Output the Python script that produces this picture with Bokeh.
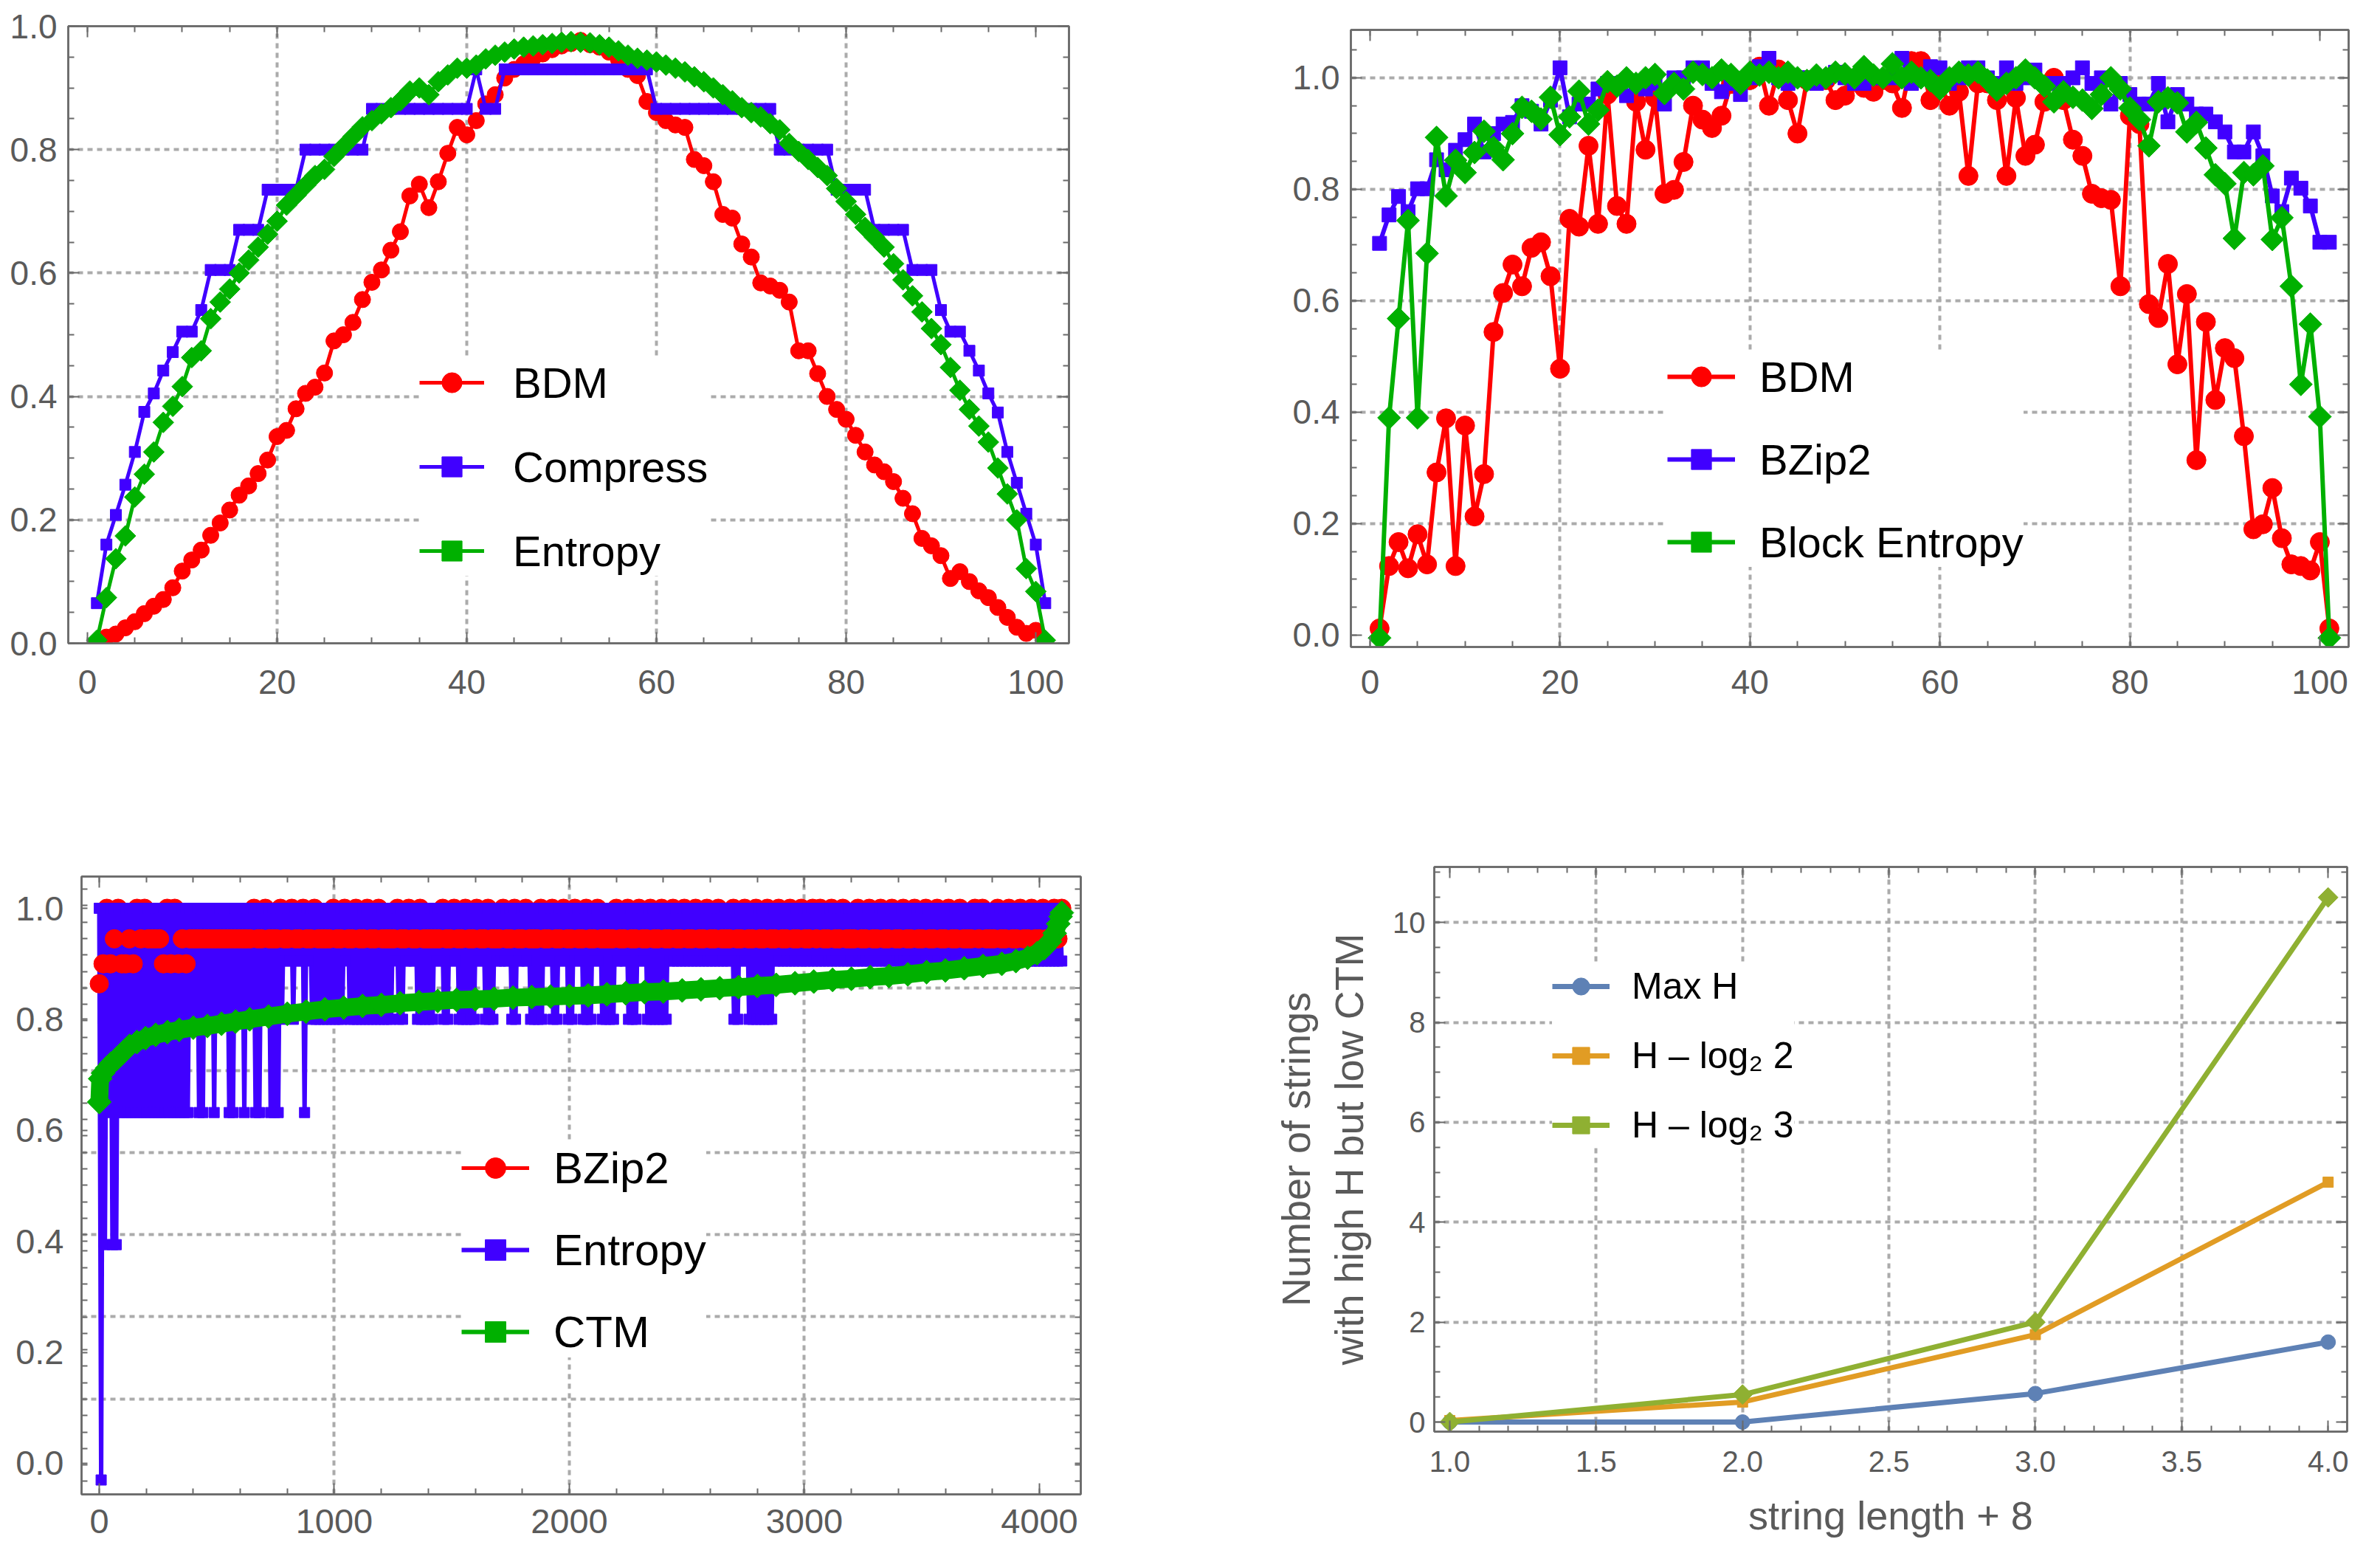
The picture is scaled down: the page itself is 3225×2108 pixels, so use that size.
import numpy as np
from bokeh.plotting import figure
from bokeh.layouts import row, column
from bokeh.models import (Range1d, FixedTicker, NumeralTickFormatter, LinearAxis, Legend,
                          LegendItem, ColumnDataSource, CDSView, BooleanFilter,
                          CustomJSTickFormatter)
from bokeh.embed import file_html
from bokeh.resources import INLINE

# ------------------------------------------------------------------ data
# top-left panel (x = 1..101)
TL_X = list(range(1, 102))
TL_BDM = [0.0, 0.01, 0.015, 0.025, 0.035, 0.048, 0.06, 0.071, 0.09, 0.117,
          0.135, 0.151, 0.175, 0.195, 0.216, 0.24, 0.255, 0.275, 0.297, 0.335,
          0.345, 0.38, 0.405, 0.415, 0.438, 0.49, 0.5, 0.52, 0.557, 0.585,
          0.605, 0.637, 0.667, 0.725, 0.744, 0.706, 0.748, 0.794, 0.836, 0.824,
          0.847, 0.874, 0.889, 0.916, 0.93, 0.939, 0.948, 0.955, 0.962, 0.968,
          0.972, 0.977, 0.97, 0.966, 0.958, 0.946, 0.93, 0.92, 0.878, 0.86,
          0.847, 0.84, 0.836, 0.784, 0.774, 0.748, 0.695, 0.689, 0.647, 0.626,
          0.584, 0.579, 0.572, 0.553, 0.474, 0.474, 0.437, 0.40, 0.379, 0.363,
          0.337, 0.31, 0.289, 0.278, 0.262, 0.235, 0.21, 0.17, 0.158, 0.142,
          0.105, 0.116, 0.1, 0.085, 0.074, 0.058, 0.042, 0.026, 0.016, 0.021,
          0.002]
TL_COMPRESS = [0.065, 0.16, 0.208, 0.257, 0.31, 0.375, 0.405, 0.442, 0.472, 0.505,
               0.505, 0.54, 0.605, 0.605, 0.605, 0.67, 0.67, 0.67, 0.735, 0.735,
               0.735, 0.735, 0.80, 0.80, 0.80, 0.80, 0.80, 0.80, 0.80, 0.866,
               0.866, 0.866, 0.866, 0.866, 0.866, 0.866, 0.866, 0.866, 0.866, 0.866,
               0.93, 0.866, 0.866, 0.93, 0.93, 0.93, 0.93, 0.93, 0.93, 0.93,
               0.93, 0.93, 0.93, 0.93, 0.93, 0.93, 0.93, 0.93, 0.93, 0.866,
               0.866, 0.866, 0.866, 0.866, 0.866, 0.866, 0.866, 0.866, 0.866, 0.866,
               0.866, 0.866, 0.80, 0.80, 0.80, 0.80, 0.80, 0.80, 0.735, 0.735,
               0.735, 0.735, 0.67, 0.67, 0.67, 0.67, 0.605, 0.605, 0.605, 0.54,
               0.505, 0.505, 0.474, 0.442, 0.405, 0.374, 0.31, 0.26, 0.21, 0.16,
               0.065]
TL_ENTROPY = [0.005, 0.074, 0.137, 0.174, 0.237, 0.274, 0.31, 0.358, 0.384, 0.416,
              0.463, 0.474, 0.526, 0.553, 0.574, 0.6, 0.621, 0.642, 0.663, 0.684,
              0.71, 0.726, 0.742, 0.758, 0.768, 0.789, 0.805, 0.821, 0.837, 0.847,
              0.858, 0.868, 0.879, 0.895, 0.9, 0.889, 0.91, 0.921, 0.932, 0.932,
              0.937, 0.947, 0.953, 0.958, 0.963, 0.966, 0.968, 0.97, 0.972, 0.974,
              0.975, 0.974, 0.973, 0.97, 0.966, 0.96, 0.953, 0.948, 0.945, 0.942,
              0.937, 0.932, 0.926, 0.918, 0.91, 0.9, 0.889, 0.879, 0.868, 0.86,
              0.853, 0.842, 0.832, 0.81, 0.797, 0.784, 0.771, 0.758, 0.737, 0.716,
              0.695, 0.674, 0.658, 0.642, 0.615, 0.589, 0.563, 0.537, 0.51, 0.484,
              0.447, 0.41, 0.379, 0.352, 0.326, 0.284, 0.242, 0.2, 0.121, 0.084,
              0.005]

# top-right panel (x = 1..101)
TR_X = list(range(1, 102))
TR_BDM = [0.012, 0.124, 0.167, 0.12, 0.181, 0.127, 0.292, 0.389, 0.124, 0.376,
          0.213, 0.289, 0.544, 0.614, 0.665, 0.626, 0.695, 0.705, 0.644, 0.478,
          0.747, 0.733, 0.878, 0.738, 0.97, 0.77, 0.738, 0.957, 0.871, 0.964,
          0.792, 0.799, 0.849, 0.95, 0.925, 0.91, 0.932, 0.989, 0.99, 0.996,
          1.02, 0.95, 1.015, 0.96, 0.90, 0.996, 1.0, 0.996, 0.96, 0.968,
          0.993, 0.982, 0.975, 0.996, 0.99, 0.946, 1.03, 1.03, 0.96, 0.99,
          0.95, 0.975, 0.824, 0.99, 0.99, 0.96, 0.824, 0.964, 0.86, 0.88,
          0.957, 1.0, 0.96, 0.889, 0.86, 0.792, 0.784, 0.781, 0.626, 0.932,
          0.917, 0.594, 0.569, 0.666, 0.486, 0.612, 0.314, 0.562, 0.422, 0.515,
          0.497, 0.357, 0.19, 0.199, 0.264, 0.174, 0.127, 0.124, 0.116, 0.167,
          0.012]
TR_BZIP2 = [0.703, 0.754, 0.787, 0.76, 0.801, 0.801, 0.853, 0.835, 0.87, 0.889,
            0.917, 0.867, 0.90, 0.917, 0.92, 0.95, 0.94, 0.917, 0.96, 1.018,
            0.93, 0.953, 0.953, 0.98, 0.99, 0.99, 0.968, 0.99, 0.98, 0.99,
            0.953, 1.0, 1.0, 1.018, 1.018, 0.99, 0.975, 0.99, 0.97, 1.0,
            1.02, 1.035, 1.0, 0.99, 1.0, 1.0, 0.99, 1.0, 1.01, 1.0,
            0.99, 0.99, 1.0, 1.0, 1.0, 1.035, 0.99, 1.0, 1.02, 1.018,
            0.99, 1.0, 1.018, 1.018, 1.0, 0.99, 1.018, 0.99, 1.0, 1.014,
            0.99, 0.99, 0.99, 1.0, 1.018, 0.99, 1.0, 0.953, 0.99, 0.97,
            0.953, 0.953, 0.99, 0.921, 0.97, 0.953, 0.935, 0.935, 0.921, 0.903,
            0.867, 0.867, 0.903, 0.86, 0.788, 0.76, 0.82, 0.802, 0.77, 0.705,
            0.705]
TR_BLOCK = [-0.005, 0.39, 0.568, 0.744, 0.39, 0.685, 0.893, 0.788, 0.852, 0.83,
            0.866, 0.904, 0.875, 0.853, 0.9, 0.947, 0.94, 0.926, 0.965, 0.898,
            0.93, 0.976, 0.917, 0.942, 0.993, 0.985, 1.0, 0.99, 1.0, 1.006,
            0.972, 0.99, 0.98, 1.01, 1.006, 1.0, 1.014, 1.006, 0.99, 1.01,
            1.005, 1.01, 1.0, 1.01, 1.0, 0.995, 1.005, 1.0, 1.01, 1.007,
            1.0, 1.02, 1.005, 1.0, 1.025, 1.0, 1.01, 1.0, 0.995, 0.98,
            1.0, 1.01, 1.005, 1.01, 0.996, 0.978, 0.99, 1.0, 1.014, 1.0,
            0.985, 0.957, 0.975, 0.965, 0.96, 0.945, 0.97, 1.0, 0.98, 0.946,
            0.925, 0.878, 0.957, 0.964, 0.955, 0.903, 0.92, 0.874, 0.826, 0.81,
            0.712, 0.83, 0.826, 0.842, 0.71, 0.749, 0.626, 0.45, 0.558, 0.392,
            -0.005]

# bottom-left panel: 4096 strings at a coarser step
BL_N = 4095
BL_BZIP2 = [0.864, 0.90, 1.0, 0.90, 0.945, 1.0, 0.90, 0.90, 0.945, 0.90, 1.0, 0.945, 1.0, 0.945, 0.945, 0.945,
            0.945, 0.90, 1.0, 0.90, 1.0, 0.90, 0.945, 0.90, 0.945, 0.945, 0.945, 0.945, 0.945, 0.945, 0.945, 0.945,
            0.945, 0.945, 0.945, 0.945, 0.945, 0.945, 0.945, 0.945, 0.945, 1.0, 0.945, 0.945, 1.0, 0.945, 0.945, 0.945,
            1.0, 0.945, 0.945, 1.0, 0.945, 0.945, 1.0, 0.945, 0.945, 1.0, 0.945, 0.945, 0.945, 0.945, 1.0, 0.945,
            0.945, 1.0, 0.945, 0.945, 1.0, 0.945, 0.945, 1.0, 0.945, 0.945, 1.0, 0.945, 0.945, 0.945, 0.945, 1.0,
            0.945, 0.945, 1.0, 0.945, 0.945, 1.0, 0.945, 0.945, 0.945, 0.945, 0.945, 1.0, 0.945, 0.945, 1.0, 0.945,
            0.945, 1.0, 0.945, 0.945, 1.0, 0.945, 0.945, 1.0, 0.945, 0.945, 0.945, 1.0, 0.945, 0.945, 1.0, 0.945,
            0.945, 1.0, 0.945, 0.945, 0.945, 1.0, 0.945, 0.945, 1.0, 0.945, 0.945, 1.0, 0.945, 0.945, 1.0, 0.945,
            0.945, 1.0, 0.945, 0.945, 1.0, 0.945, 0.945, 0.945, 0.945, 1.0, 0.945, 0.945, 1.0, 0.945, 0.945, 1.0,
            0.945, 0.945, 1.0, 0.945, 0.945, 1.0, 0.945, 0.945, 1.0, 0.945, 0.945, 1.0, 0.945, 0.945, 1.0, 0.945,
            0.945, 1.0, 0.945, 0.945, 1.0, 0.945, 0.945, 0.945, 1.0, 0.945, 0.945, 1.0, 0.945, 0.945, 1.0, 0.945,
            0.945, 1.0, 0.945, 0.945, 1.0, 0.945, 0.945, 1.0, 0.945, 0.945, 1.0, 0.945, 0.945, 1.0, 0.945, 1.0,
            0.945, 0.945, 1.0, 0.945, 0.945, 1.0, 0.945, 0.945, 0.945, 1.0, 0.945, 0.945, 1.0, 0.945, 0.945, 1.0,
            0.945, 0.945, 1.0, 0.945, 0.945, 1.0, 0.945, 0.945, 1.0, 0.945, 0.945, 1.0, 0.945, 0.945, 1.0, 0.945,
            0.945, 1.0, 0.945, 0.945, 1.0, 0.945, 0.945, 0.945, 1.0, 0.945, 1.0, 0.945, 0.945, 0.945, 1.0, 0.945,
            0.945, 1.0, 0.945, 0.945, 1.0, 0.945, 0.945, 1.0, 0.945, 0.945, 1.0, 0.945, 0.945, 1.0, 0.945, 1.0]
BL_ENTROPY = [
    1.0, -0.03, 1.0, 0.394, 1.0, 0.632, 1.0, 0.394, 1.0, 0.394, 1.0, 0.632, 1.0, 0.632, 1.0, 0.632,
    1.0, 0.632, 1.0, 0.632, 1.0, 0.632, 1.0, 0.632, 1.0, 0.632, 1.0, 0.632, 1.0, 0.632, 1.0, 0.632,
    1.0, 0.632, 1.0, 0.632, 1.0, 0.632, 1.0, 0.632, 1.0, 0.632, 1.0, 0.632, 1.0, 0.632, 1.0, 0.632,
    1.0, 0.80, 1.0, 0.80, 1.0, 0.632, 1.0, 0.632, 1.0, 0.80, 1.0, 0.80, 1.0, 0.632, 1.0, 0.80,
    1.0, 0.80, 1.0, 0.80, 1.0, 0.632, 1.0, 0.632, 1.0, 0.80, 1.0, 0.80, 1.0, 0.632, 1.0, 0.80,
    1.0, 0.80, 1.0, 0.632, 1.0, 0.632, 1.0, 0.80, 1.0, 0.80, 1.0, 0.632, 1.0, 0.632, 1.0, 0.632,
    1.0, 0.80, 1.0, 0.905, 1.0, 0.905, 1.0, 0.80, 1.0, 0.905, 1.0, 0.905, 1.0, 0.632, 1.0, 0.905,
    1.0, 0.80, 1.0, 0.80, 1.0, 0.80, 1.0, 0.80, 1.0, 0.80, 1.0, 0.80, 1.0, 0.80, 1.0, 0.80,
    1.0, 0.80, 1.0, 0.905, 1.0, 0.80, 1.0, 0.80, 1.0, 0.80, 1.0, 0.80, 1.0, 0.80, 1.0, 0.80,
    1.0, 0.80, 1.0, 0.80, 1.0, 0.80, 1.0, 0.80, 1.0, 0.80, 1.0, 0.80, 1.0, 0.905, 1.0, 0.80,
    1.0, 0.80, 1.0, 0.905, 1.0, 0.905, 1.0, 0.905, 1.0, 0.80, 1.0, 0.80, 1.0, 0.80, 1.0, 0.80,
    1.0, 0.80, 1.0, 0.905, 1.0, 0.905, 1.0, 0.80, 1.0, 0.80, 1.0, 0.905, 1.0, 0.905, 1.0, 0.80,
    1.0, 0.80, 1.0, 0.80, 1.0, 0.80, 1.0, 0.80, 1.0, 0.905, 1.0, 0.905, 1.0, 0.80, 1.0, 0.80,
    1.0, 0.80, 1.0, 0.905, 1.0, 0.905, 1.0, 0.905, 1.0, 0.905, 1.0, 0.80, 1.0, 0.80, 1.0, 0.905,
    1.0, 0.905, 1.0, 0.905, 1.0, 0.80, 1.0, 0.80, 1.0, 0.80, 1.0, 0.80, 1.0, 0.905, 1.0, 0.905,
    1.0, 0.80, 1.0, 0.80, 1.0, 0.905, 1.0, 0.905, 1.0, 0.80, 1.0, 0.80, 1.0, 0.905, 1.0, 0.905,
    1.0, 0.80, 1.0, 0.80, 1.0, 0.80, 1.0, 0.905, 1.0, 0.905, 1.0, 0.80, 1.0, 0.80, 1.0, 0.80,
    1.0, 0.80, 1.0, 0.905, 1.0, 0.905, 1.0, 0.905, 1.0, 0.80, 1.0, 0.80, 1.0, 0.80, 1.0, 0.905,
    1.0, 0.905, 1.0, 0.80, 1.0, 0.80, 1.0, 0.80, 1.0, 0.80, 1.0, 0.80, 1.0, 0.80, 1.0, 0.905,
    1.0, 0.905, 1.0, 0.905, 1.0, 0.905, 1.0, 0.905, 1.0, 0.905, 1.0, 0.905, 1.0, 0.905, 1.0, 0.905,
    1.0, 0.905, 1.0, 0.905, 1.0, 0.905, 1.0, 0.905, 1.0, 0.905, 1.0, 0.905, 1.0, 0.905, 1.0, 0.905,
    1.0, 0.80, 1.0, 0.80, 1.0, 0.905, 1.0, 0.905, 1.0, 0.80, 1.0, 0.80, 1.0, 0.80, 1.0, 0.80,
    1.0, 0.80, 1.0, 0.80, 1.0, 0.80, 1.0, 0.905, 1.0, 0.905, 1.0, 0.905, 1.0, 0.905, 1.0, 0.905,
    1.0, 0.905, 1.0, 0.905, 1.0, 0.905, 1.0, 0.905, 1.0, 0.905, 1.0, 0.905, 1.0, 0.905, 1.0, 0.905,
    1.0, 0.905, 1.0, 0.905, 1.0, 0.905, 1.0, 0.905, 1.0, 0.905, 1.0, 0.905, 1.0, 0.905, 1.0, 0.905,
    1.0, 0.905, 1.0, 0.905, 1.0, 0.905, 1.0, 0.905, 1.0, 0.905, 1.0, 0.905, 1.0, 0.905, 1.0, 0.905,
    1.0, 0.905, 1.0, 0.905, 1.0, 0.905, 1.0, 0.905, 1.0, 0.905, 1.0, 0.905, 1.0, 0.905, 1.0, 0.905,
    1.0, 0.905, 1.0, 0.905, 1.0, 0.905, 1.0, 0.905, 1.0, 0.905, 1.0, 0.905, 1.0, 0.905, 1.0, 0.905,
    1.0, 0.905, 1.0, 0.905, 1.0, 0.905, 1.0, 0.905, 1.0, 0.905, 1.0, 0.905, 1.0, 0.905, 1.0, 0.905,
    1.0, 0.905, 1.0, 0.905, 1.0, 0.905, 1.0, 0.905, 1.0, 0.905, 1.0, 0.905, 1.0, 0.905, 1.0, 0.905,
    1.0, 0.905, 1.0, 0.905, 1.0, 0.905, 1.0, 0.905, 1.0, 0.905, 1.0, 0.905, 1.0, 0.905, 1.0, 0.905,
    1.0, 0.905, 1.0, 0.905, 1.0, 0.905, 1.0, 0.905, 1.0, 0.905, 1.0, 0.905, 1.0, 0.905, 1.0, 0.905]
BL_CTM_X = [0, 4, 16, 33, 50, 74, 100, 129, 160, 197, 240, 290, 340, 400, 460, 520, 580, 640,
            720, 800, 880, 960, 1040, 1120, 1200, 1280, 1360, 1440, 1520, 1600, 1680, 1760, 1840,
            1920, 2000, 2080, 2160, 2240, 2320, 2400, 2480, 2560, 2640, 2720, 2800, 2880, 2960,
            3040, 3120, 3200, 3280, 3360, 3440, 3520, 3600, 3680, 3760, 3840, 3900, 3950, 3990,
            4020, 4045, 4065, 4080, 4090, 4095]
BL_CTM_Y = [0.651, 0.693, 0.703, 0.712, 0.72, 0.729, 0.740, 0.752, 0.759, 0.766, 0.772, 0.777,
            0.781, 0.785, 0.788, 0.792, 0.796, 0.8, 0.805, 0.81, 0.814, 0.818, 0.821, 0.824,
            0.826, 0.829, 0.831, 0.833, 0.835, 0.836, 0.837, 0.839, 0.840, 0.841, 0.842, 0.843,
            0.845, 0.847, 0.849, 0.850, 0.852, 0.854, 0.856, 0.858, 0.860, 0.862, 0.865, 0.868,
            0.871, 0.873, 0.876, 0.878, 0.881, 0.885, 0.888, 0.892, 0.896, 0.900, 0.905, 0.911,
            0.919, 0.928, 0.94, 0.955, 0.972, 0.985, 0.992]

# bottom-right panel
BR_X = [1.0, 2.0, 3.0, 4.0]
BR_MAXH = [0.0, 0.0, 0.57, 1.6]
BR_LOG2 = [0.03, 0.4, 1.75, 4.8]
BR_LOG3 = [0.0, 0.55, 2.0, 10.5]

# ------------------------------------------------------------------ style
FONT = "Liberation Sans"
FRAME = "#6A6A6A"
TICKTXT = "#5A5A5A"
GRIDC = "#ABABAB"
RED = "#FF0000"
BLUE = "#4000FF"
GREEN = "#00B000"
MBLUE, MORANGE, MGREEN = "#5E81B5", "#E19C24", "#8FB032"
DIAMOND = np.pi / 4


def new_fig(w, h, xr, yr, left, right, top, bottom):
    p = figure(width=w, height=h, x_range=Range1d(*xr), y_range=Range1d(*yr),
               output_backend="svg", toolbar_location=None,
               min_border_left=left, min_border_right=right,
               min_border_top=top, min_border_bottom=bottom)
    if "frame_align" in p.properties():
        p.frame_align = False
    p.outline_line_color = FRAME
    p.outline_line_width = 2.5
    p.background_fill_color = "white"
    p.border_fill_color = "white"
    return p


def style_axis(ax, ticks, minor, fmt, size, standoff, major_in=15):
    ax.ticker = FixedTicker(ticks=ticks, minor_ticks=minor)
    ax.formatter = fmt
    ax.axis_line_color = FRAME
    ax.axis_line_width = 2.5
    ax.major_tick_in = major_in
    ax.major_tick_out = 0
    ax.minor_tick_in = 8
    ax.minor_tick_out = 0
    ax.major_tick_line_color = FRAME
    ax.major_tick_line_width = 2
    ax.minor_tick_line_color = FRAME
    ax.minor_tick_line_width = 2
    ax.major_label_text_font = FONT
    ax.major_label_text_font_size = f"{size}px"
    ax.major_label_text_color = TICKTXT
    ax.major_label_standoff = standoff


def frame_axes(p, xt, xm, yt, ym, xg, yg, xfmt, yfmt, size, xstand, ystand, ymajor_in=15):
    bottom = p.below[0]
    left = p.left[0]
    style_axis(bottom, xt, xm, NumeralTickFormatter(format=xfmt), size, xstand)
    style_axis(left, yt, ym, NumeralTickFormatter(format=yfmt), size, ystand, ymajor_in)
    top = LinearAxis()
    style_axis(top, xt, xm, CustomJSTickFormatter(code="return ''"), size, 0)
    right = LinearAxis()
    style_axis(right, yt, ym, CustomJSTickFormatter(code="return ''"), size, 0, ymajor_in)
    p.add_layout(top, "above")
    p.add_layout(right, "right")
    p.xgrid.ticker = FixedTicker(ticks=xg)
    p.ygrid.ticker = FixedTicker(ticks=yg)
    for g in (p.xgrid[0], p.ygrid[0]):
        g.grid_line_color = GRIDC
        g.grid_line_width = 4
        g.grid_line_dash = "7 6"
    return bottom, left


def add_legend(p, items, loc, size, gw, gh, standoff, spacing):
    leg = Legend(items=[LegendItem(label=l, renderers=r) for l, r in items],
                 location=loc, label_text_font=FONT, label_text_font_size=f"{size}px",
                 label_text_color="black", glyph_width=gw, glyph_height=gh, label_height=gh,
                 label_standoff=standoff, spacing=spacing, padding=8, margin=0,
                 border_line_color=None, background_fill_color="white",
                 background_fill_alpha=1.0)
    p.add_layout(leg, "center")


def frange(a, b, step):
    n = int(round((b - a) / step))
    return [round(a + k * step, 6) for k in range(n + 1)]


# ------------------------------------------------------------------ top-left
p1 = new_fig(1600, 1090, (-2.02, 103.5), (0.0, 1.0), 92, 152, 35, 219)
frame_axes(p1, [0, 20, 40, 60, 80, 100], frange(0, 105, 5),
           [0.0, 0.2, 0.4, 0.6, 0.8, 1.0], frange(0, 1.0, 0.05),
           [20, 40, 60, 80], [0.2, 0.4, 0.6, 0.8], "0", "0.0", 46, 36, 15)
r_l = p1.line(TL_X, TL_BDM, line_color=RED, line_width=5)
r_s = p1.scatter(TL_X, TL_BDM, marker="circle", size=22, fill_color=RED, line_color=RED)
b_l = p1.line(TL_X, TL_COMPRESS, line_color=BLUE, line_width=5)
b_s = p1.scatter(TL_X, TL_COMPRESS, marker="square", size=15, fill_color=BLUE, line_color=BLUE)
g_l = p1.line(TL_X, TL_ENTROPY, line_color=GREEN, line_width=5)
g_s = p1.scatter(TL_X, TL_ENTROPY, marker="square", angle=DIAMOND, size=20,
                 fill_color=GREEN, line_color=GREEN)
add_legend(p1, [("BDM", [r_l, r_s]), ("Compress", [b_l, b_s]), ("Entropy", [g_l, g_s])],
           (476, 91), 58, 88, 68, 39, 46)

# ------------------------------------------------------------------ top-right
p2 = new_fig(1609, 1090, (-2.02, 103.03), (-0.0212, 1.086), 230, 27, 40, 214)
frame_axes(p2, [0, 20, 40, 60, 80, 100], frange(0, 105, 5),
           [0.0, 0.2, 0.4, 0.6, 0.8, 1.0], frange(0, 1.05, 0.05),
           [20, 40, 60, 80], [0.2, 0.4, 0.6, 0.8, 1.0], "0", "0.0", 46, 31, 15)
r_l = p2.line(TR_X, TR_BDM, line_color=RED, line_width=6)
r_s = p2.scatter(TR_X, TR_BDM, marker="circle", size=26, fill_color=RED, line_color=RED)
b_l = p2.line(TR_X, TR_BZIP2, line_color=BLUE, line_width=6)
b_s = p2.scatter(TR_X, TR_BZIP2, marker="square", size=19, fill_color=BLUE, line_color=BLUE)
g_l = p2.line(TR_X, TR_BLOCK, line_color=GREEN, line_width=6)
g_s = p2.scatter(TR_X, TR_BLOCK, marker="square", angle=DIAMOND, size=22,
                 fill_color=GREEN, line_color=GREEN)
add_legend(p2, [("BDM", [r_l, r_s]), ("BZip2", [b_l, b_s]), ("Block Entropy", [g_l, g_s])],
           (429, 108), 58, 92, 68, 33, 44)

# ------------------------------------------------------------------ bottom-left
BL_GRID_Y = [0.116, 0.264, 0.412, 0.560, 0.708, 0.857]
p3 = new_fig(1600, 1002, (-75.4, 4176), (-0.0559, 1.0572), 110, 136, 97, 68)
frame_axes(p3, [0, 1000, 2000, 3000, 4000], frange(0, 4200, 200),
           [0.0, 0.2, 0.4, 0.6, 0.8, 1.0], frange(-0.0326, 1.05, 0.02964),
           [1000, 2000, 3000], BL_GRID_Y, "0", "0.0", 47, 20, 24, ymajor_in=8)
bz_x = list(np.linspace(0, BL_N, len(BL_BZIP2)))
en_x = list(np.linspace(0, BL_N, len(BL_ENTROPY)))
bz_src = ColumnDataSource(dict(x=bz_x, y=BL_BZIP2))
top_view = CDSView(filter=BooleanFilter(booleans=[v >= 0.99 for v in BL_BZIP2]))
rest_view = CDSView(filter=BooleanFilter(booleans=[v < 0.99 for v in BL_BZIP2]))
r_l = p3.line("x", "y", source=bz_src, line_color=RED, line_width=5)
r_top = p3.scatter("x", "y", source=bz_src, view=top_view, marker="circle", size=25,
                   fill_color=RED, line_color=RED)
b_l = p3.line(en_x, BL_ENTROPY, line_color=BLUE, line_width=6)
r_rest = p3.scatter("x", "y", source=bz_src, view=rest_view, marker="circle", size=25,
                    fill_color=RED, line_color=RED)
b_s = p3.scatter(en_x, BL_ENTROPY, marker="square", size=14, fill_color=BLUE, line_color=BLUE)
g_thin = p3.line(BL_CTM_X, BL_CTM_Y, line_color=GREEN, line_width=6)
g_band = p3.line(BL_CTM_X, BL_CTM_Y, line_color=GREEN, line_width=24)
g_s = p3.scatter(BL_CTM_X, BL_CTM_Y, marker="square", angle=DIAMOND, size=23,
                 fill_color=GREEN, line_color=GREEN)
add_legend(p3, [("BZip2", [r_l, r_rest]), ("Entropy", [b_l, b_s]), ("CTM", [g_thin, g_s])],
           (515, 185), 60, 92, 70, 33, 41)

# ------------------------------------------------------------------ bottom-right
p4 = new_fig(1609, 1002, (0.947, 4.065), (-0.192, 11.11), 343, 29, 84, 153)
xa, ya = frame_axes(p4, [1.0, 1.5, 2.0, 2.5, 3.0, 3.5, 4.0], frange(1.0, 4.0, 0.1),
                    [0, 2, 4, 6, 8, 10], frange(0, 11, 0.5),
                    [1.5, 2.0, 2.5, 3.0, 3.5], [2, 4, 6, 8, 10], "0.0", "0", 40, 26, 12)
xa.axis_label = "string length + 8"
ya.axis_label = "Number of strings\nwith high H but low CTM"
for ax in (xa, ya):
    ax.axis_label_text_font = FONT
    ax.axis_label_text_font_size = "54px"
    ax.axis_label_text_font_style = "normal"
    ax.axis_label_text_color = TICKTXT
    ax.axis_label_standoff = 26
m_l = p4.line(BR_X, BR_MAXH, line_color=MBLUE, line_width=7)
m_s = p4.scatter(BR_X, BR_MAXH, marker="circle", size=20, fill_color=MBLUE, line_color=MBLUE)
o_l = p4.line(BR_X, BR_LOG2, line_color=MORANGE, line_width=7)
o_s = p4.scatter(BR_X, BR_LOG2, marker="square", size=14, fill_color=MORANGE, line_color=MORANGE)
t_l = p4.line(BR_X, BR_LOG3, line_color=MGREEN, line_width=7)
t_s = p4.scatter(BR_X, BR_LOG3, marker="square", angle=DIAMOND, size=19,
                 fill_color=MGREEN, line_color=MGREEN)
add_legend(p4, [("Max H", [m_l, m_s]), ("H \u2013 log\u2082 2", [o_l, o_s]),
                ("H \u2013 log\u2082 3", [t_l, t_s])],
           (160, 386), 50, 78, 58, 30, 36)

layout = column(row(p1, p2), row(p3, p4))
open("out.html", "w").write(file_html(layout, INLINE, title="chart"))
